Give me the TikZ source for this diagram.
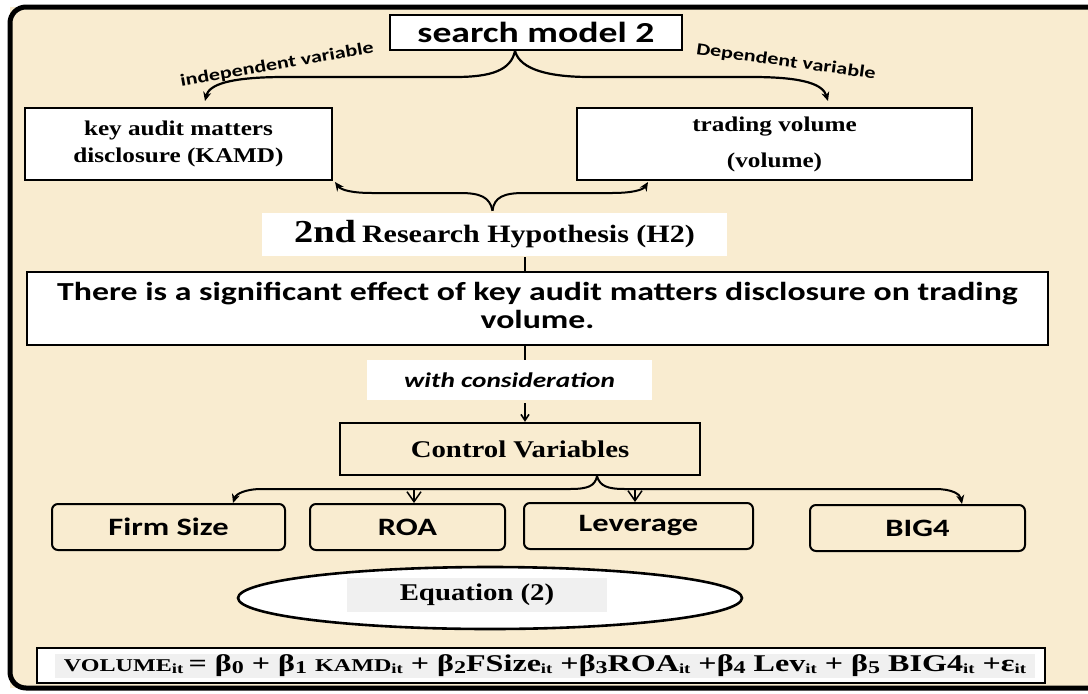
\documentclass[tikz,border=0pt]{standalone}
\usepackage{fontspec}
\setmainfont{Liberation Serif}
\newfontfamily\calib{Carlito}
\usepackage{graphicx}
\usetikzlibrary{arrows.meta,shapes.geometric}
\definecolor{cream}{RGB}{249,236,208}
\definecolor{eqgray}{RGB}{240,240,240}
\newcommand{\sxx}[1]{\scalebox{1.3}[1]{#1}}
\newcommand{\sxs}[1]{\scalebox{1.2}[1]{#1}}
\newcommand{\fs}[1]{\fontsize{#1}{#1}\selectfont}
\newcommand{\sbi}[1]{\raisebox{-1.5pt}{\fs{14}#1}}
\newcommand{\sbd}[1]{\raisebox{-2pt}{\fs{18}#1}}
\begin{document}
\begin{tikzpicture}[x=1pt,y=-1pt,
  wbox/.style={draw, line width=1.8pt, fill=white, inner sep=0pt},
  cbox/.style={draw, line width=2pt, fill=cream, inner sep=0pt, rounded corners=6pt},
  plainw/.style={fill=white, inner sep=0pt},
  brace/.style={line width=2.2pt, -{Stealth[length=9pt,width=8pt]}},
  barb/.style={line width=1.5pt, -{Straight Barb[length=10pt,width=14pt]}},
  sans/.style={font=\calib\bfseries},
  serif/.style={font=\bfseries}]
\path[use as bounding box] (0,0) rectangle (1088,694);
\fill[white] (0,0) rectangle (1088,694);
\fill[cream] (10,7) rectangle (1088,688);
\draw[line width=5pt, rounded corners=16pt, line cap=butt] (1088,7) -- (10,7) -- (10,688) -- (1088,688);

% top
\node[wbox, minimum width=292pt, minimum height=35pt] (sm) at (536,32.5)
  {\calib\bfseries\fs{29}\sxx{search model 2}};
\node[sans, rotate=10, font=\calib\bfseries\fs{17}] (lind) at (277,65) {\sxx{independent variable}};
\node[sans, rotate=-8, font=\calib\bfseries\fs{17}] (ldep) at (786,62) {\sxx{Dependent variable}};

\node[wbox, minimum width=307pt, minimum height=72pt] (kamd) at (178.5,144)
  {\bfseries\fontsize{21}{27}\selectfont\sxs{\begin{tabular}{@{}c@{}}key audit matters\\disclosure (KAMD)\end{tabular}}};
\node[wbox, minimum width=395pt, minimum height=72pt] (tv) at (774.5,144)
  {\bfseries\fontsize{21}{27}\selectfont\sxs{\begin{tabular}{@{}c@{}}trading volume\\[9pt](volume)\end{tabular}}};

\coordinate (ta) at ([xshift=-21pt]sm.south);
\coordinate (tl) at (205,101);
\coordinate (tr) at (828,101);
\draw[brace] (ta) .. controls (511,70) and (492,77) .. (455,77) -- (285,77) .. controls (228,77) and (209,85) .. (tl);
\draw[brace] (ta) .. controls (520,70) and (550,77) .. (590,77) -- (752,77) .. controls (806,77) and (823,85) .. (tr);

% hypothesis label
\node[plainw, minimum width=465pt, minimum height=43pt] (hl) at (494.5,234.5)
  {\bfseries\sxs{{\fs{32}2nd}\hspace{5pt}{\fs{25}Research Hypothesis (H2)}}};
\coordinate (ba) at ([xshift=-2pt,yshift=2pt]hl.north);
\coordinate (bl) at (335,182);
\coordinate (br) at (648,182);
\draw[brace, line width=2pt] (ba) .. controls (490,197) and (480,193) .. (460,193) -- (372,193) .. controls (352,193) and (341,190) .. (bl);
\draw[brace, line width=2pt] (ba) .. controls (494,197) and (504,193) .. (524,193) -- (612,193) .. controls (632,193) and (643,190) .. (br);

\node[wbox, line width=2.6pt, minimum width=1021pt, minimum height=73pt] (hyp) at (537.5,308.5)
  {\calib\bfseries\fontsize{26}{28}\selectfont\sxx{\begin{tabular}{@{}c@{}}There is a significant effect of key audit matters disclosure on trading\\volume.\end{tabular}}};
\coordinate (v1) at (525,257);
\draw[line width=2pt] (v1) -- (v1 |- hyp.north);

\node[plainw, minimum width=285pt, minimum height=40pt] (wc) at (509.5,380)
  {\calib\bfseries\itshape\fs{21}\sxx{with consideration}};
\draw[line width=2pt] (hyp.south -| v1) -- (wc.north -| v1);

\node[cbox, rounded corners=0pt, line width=2.4pt, minimum width=360pt, minimum height=52pt] (cv) at (520,449)
  {\bfseries\fs{24}\sxs{Control Variables}};
\draw[line width=1.6pt, -{Straight Barb[length=6pt,width=8pt]}] ([yshift=-3pt]wc.south -| v1) -- (cv.north -| v1);

% control variable boxes
\node[cbox, minimum width=233pt, minimum height=46pt] (fs) at (168.5,527) {\calib\bfseries\fs{25}\sxx{Firm Size}};
\node[cbox, minimum width=195pt, minimum height=46pt] (roa) at (407.5,527) {\calib\bfseries\fs{25}\sxx{ROA}};
\node[cbox, minimum width=229pt, minimum height=46pt] (lev) at (638.5,526) {\calib\bfseries\fs{25}\sxx{Leverage}};
\node[cbox, minimum width=215pt, minimum height=46pt] (big) at (917.5,528) {\calib\bfseries\fs{25}\sxx{BIG4}};

\coordinate (ca) at ([xshift=77pt]cv.south);
\coordinate (cfs) at (233,503);
\coordinate (cbg) at (962,504);
\draw[brace, line width=2pt] (ca) .. controls (595,486) and (588,489) .. (570,489) -- (262,489) .. controls (245,489) and (236,494) .. (cfs);
\draw[brace, line width=2pt] (ca) .. controls (600,486) and (607,489) .. (625,489) -- (935,489) .. controls (952,489) and (960,494) .. (cbg);
\coordinate (r1) at (414,489);
\coordinate (l1) at (635,489);
\draw[barb] (r1) -- (r1 |- roa.north);
\draw[barb] (l1) -- (l1 |- lev.north);

% equation
\node[ellipse, draw, line width=2.6pt, fill=white, minimum width=504pt, minimum height=62pt] (ell) at (490,598) {};
\node[fill=eqgray, inner sep=0pt, minimum width=260pt, minimum height=34pt] (eql) at (477,595)
  {\bfseries\fs{24}\sxs{Equation (2)}};

\node[wbox, line width=2.6pt, minimum width=1008pt, minimum height=35pt] (eqb) at (541,665.5) {};
\node[fill=eqgray, inner sep=0pt, minimum width=980pt, minimum height=24pt] (eqt) at (545,666)
  {\resizebox{962pt}{\height}{\bfseries\fs{24}{\fs{18}VOLUME}\sbi{it}\,= β\sbd{0} + β\sbd{1} {\fs{18}KAMD}\sbi{it} + β\sbd{2}FSize\sbi{it} +β\sbd{3}ROA\sbi{it} +β\sbd{4} Lev\sbi{it} + β\sbd{5} BIG4\sbi{it} +ε\sbi{it}}};
\end{tikzpicture}
\end{document}
